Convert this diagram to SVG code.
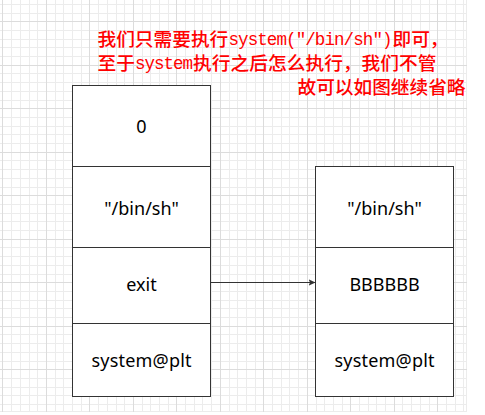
<svg xmlns="http://www.w3.org/2000/svg" width="485" height="415" viewBox="0 0 485 415">
  <style>
    .minor { stroke: #ececec; stroke-width: 1; fill: none; }
    .major { stroke: #dcdcdc; stroke-width: 1; fill: none; }
    .cell { fill: #ffffff; stroke: #333333; stroke-width: 1; }
    .lbl { font-family: "Noto Sans", "Open Sans", sans-serif; font-size: 18px; fill: #000000; text-anchor: middle; }
    .note { font-family: "Noto Sans CJK SC", "Noto Sans", sans-serif; font-size: 18.7px; font-weight: 500; fill: #ff0000; }
    .mono { font-family: "Liberation Mono", "DejaVu Sans Mono", monospace; font-size: 17.5px; fill: #ff0000; }
    .edge { stroke: #333333; stroke-width: 1; fill: none; }
  </style>
  <defs>
    <marker id="arr" markerUnits="userSpaceOnUse" markerWidth="8" markerHeight="8" refX="7" refY="4" orient="auto" viewBox="0 0 8 8">
      <path d="M0,0.8 L7,4 L0,7.2 L1.5,4 Z" fill="#333333"/>
    </marker>
  </defs>
  <rect x="0" y="0" width="485" height="415" fill="#ffffff"/>
  <g id="grid">
    <path class="minor" d="M11.5 0V412M20.5 0V412M29.5 0V412M37.5 0V412M55.5 0V412M63.5 0V412M72.5 0V412M81.5 0V412M98.5 0V412M107.5 0V412M116.5 0V412M124.5 0V412M142.5 0V412M150.5 0V412M159.5 0V412M168.5 0V412M185.5 0V412M194.5 0V412M202.5 0V412M211.5 0V412M229.5 0V412M237.5 0V412M246.5 0V412M255.5 0V412M272.5 0V412M281.5 0V412M289.5 0V412M298.5 0V412M316.5 0V412M324.5 0V412M333.5 0V412M342.5 0V412M359.5 0V412M368.5 0V412M376.5 0V412M385.5 0V412M402.5 0V412M411.5 0V412M420.5 0V412M429.5 0V412M446.5 0V412M455.5 0V412M463.5 0V412M466.5 0V412
    M0 4.5H467M0 13.5H467M0 30.5H467M0 39.5H467M0 47.5H467M0 56.5H467M0 73.5H467M0 82.5H467M0 91.5H467M0 100.5H467M0 117.5H467M0 126.5H467M0 134.5H467M0 143.5H467M0 160.5H467M0 169.5H467M0 178.5H467M0 187.5H467M0 204.5H467M0 213.5H467M0 221.5H467M0 230.5H467M0 247.5H467M0 256.5H467M0 265.5H467M0 274.5H467M0 291.5H467M0 300.5H467M0 308.5H467M0 317.5H467M0 334.5H467M0 343.5H467M0 352.5H467M0 361.5H467M0 378.5H467M0 387.5H467M0 395.5H467M0 404.5H467M0 411.5H467"/>
    <path class="major" d="M2.5 0V412M46.5 0V412M89.5 0V412M133.5 0V412M176.5 0V412M220.5 0V412M263.5 0V412M307.5 0V412M350.5 0V412M394.5 0V412M437.5 0V412
    M0 21.5H467M0 65.5H467M0 108.5H467M0 152.5H467M0 195.5H467M0 239.5H467M0 282.5H467M0 326.5H467M0 369.5H467"/>
  </g>
  <g id="note">
    <text class="note" x="97.5" y="45.5">我们只需要执行</text>
    <text class="mono" x="228.5" y="45" textLength="164" lengthAdjust="spacing">system("/bin/sh")</text>
    <text class="note" x="392.5" y="45.5">即可，</text>
    <text class="note" x="97.5" y="69.5">至于</text>
    <text class="mono" x="135" y="69" textLength="58" lengthAdjust="spacing">system</text>
    <text class="note" x="193" y="69.5" textLength="243.5" lengthAdjust="spacing">执行之后怎么执行，我们不管</text>
    <text class="note" x="297.5" y="94" textLength="168" lengthAdjust="spacing">故可以如图继续省略</text>
  </g>
  <g id="left-0">
    <rect class="cell" x="72.5" y="85.5" width="138" height="81"/>
    <text class="lbl" x="141.5" y="133">0</text>
  </g>
  <g id="left-binsh">
    <rect class="cell" x="72.5" y="166.5" width="138" height="81"/>
    <text class="lbl" x="141.5" y="214.5">"/bin/sh"</text>
  </g>
  <g id="left-exit">
    <rect class="cell" x="72.5" y="247.5" width="138" height="76"/>
    <text class="lbl" x="141.5" y="291">exit</text>
  </g>
  <g id="left-system">
    <rect class="cell" x="72.5" y="323.5" width="138" height="73"/>
    <text class="lbl" x="141.5" y="367" textLength="100" lengthAdjust="spacing">system@plt</text>
  </g>
  <g id="right-binsh">
    <rect class="cell" x="315.5" y="166.5" width="138" height="81"/>
    <text class="lbl" x="384.5" y="214.5">"/bin/sh"</text>
  </g>
  <g id="right-bbbbbb">
    <rect class="cell" x="315.5" y="247.5" width="138" height="76"/>
    <text class="lbl" x="384.5" y="291">BBBBBB</text>
  </g>
  <g id="right-system">
    <rect class="cell" x="315.5" y="323.5" width="138" height="73"/>
    <text class="lbl" x="384.5" y="367" textLength="100" lengthAdjust="spacing">system@plt</text>
  </g>
  <g id="connectors">
    <path class="edge" d="M210.5 282.5 H315.5" marker-end="url(#arr)"/>
  </g>
</svg>
